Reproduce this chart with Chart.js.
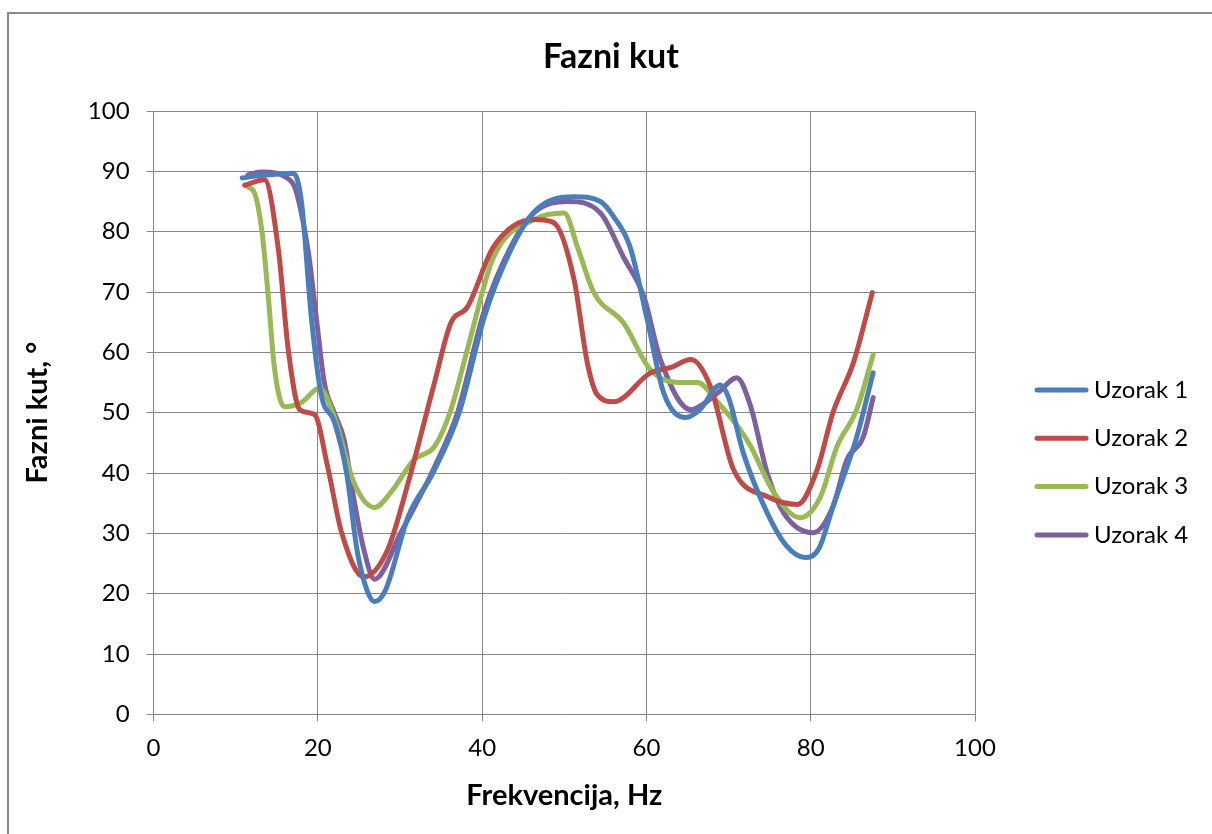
<!DOCTYPE html>
<html>
<head>
<meta charset="utf-8">
<script src="https://cdn.jsdelivr.net/npm/chart.js@4"></script>
<style>
  body { margin: 0; background: #fff; overflow: hidden; }
  #frame { position: absolute; left: 7px; top: 12px; width: 1300px; height: 900px;
           border-left: 2px solid #898989; border-top: 2px solid #898989; }
  canvas { position: absolute; left: 0; top: 0; }
</style>
</head>
<body>
<div id="frame"></div>
<canvas id="myChart" width="1212" height="834"></canvas>
<script>
  const chartTitle = 'Fazni kut';
  const seriesNames = ['Uzorak 1', 'Uzorak 2', 'Uzorak 3', 'Uzorak 4'];
  const xTicks = [0, 20, 40, 60, 80, 100];
  const yTicks = [0, 10, 20, 30, 40, 50, 60, 70, 80, 90, 100];

  const freq1 = [10.8, 13, 17, 18, 19.2, 20.4, 22, 23.5, 24.8, 26, 26.9, 28.2, 31, 34, 37.2, 40.3, 43.5, 46.5, 51.2, 54.4, 56, 58, 60.1, 62.1, 64.8, 66.5, 69, 70, 71.8, 74.7, 77, 79.3, 81, 82.7, 85.6, 87.6];
  const phase1 = [88.9, 89.3, 89.7, 85, 65.9, 53, 48.5, 40, 27, 20.5, 18.7, 20.5, 32.8, 40, 50, 66, 77, 83.5, 85.8, 85, 82.5, 77.5, 65.4, 53.3, 49.2, 50.5, 54.6, 52.5, 43.3, 33.4, 28, 26, 27.5, 34.4, 46, 56.6];

  const freq2 = [11.1, 13.5, 15.2, 16.4, 17.8, 19.6, 21.2, 22.9, 25.6, 28.5, 31, 34.2, 36.2, 38.2, 41.4, 46.3, 48.7, 51.2, 52.8, 54, 56, 60.5, 63, 65.4, 67.8, 70.6, 74.7, 78.4, 80.8, 82.7, 85.2, 87.5];
  const phase2 = [87.7, 88.6, 77, 60.4, 50.5, 49.7, 41, 30.1, 22.8, 27.3, 38.4, 55, 64.9, 67.5, 77.5, 82, 81.5, 72, 58.3, 53, 51.8, 56.6, 57.5, 58.8, 54.3, 40.6, 36.1, 34.8, 40.6, 50, 58.3, 69.9];

  const freq3 = [11.5, 12.3, 13.2, 14, 14.7, 15.9, 18, 20.2, 22, 24.4, 26.9, 29, 31.7, 34.2, 36.2, 38.3, 41.4, 46.3, 50, 51.6, 53.6, 57.2, 60.5, 63.8, 66.2, 68.7, 71.4, 72.7, 75.5, 78.7, 81.2, 83.2, 85.6, 87.6];
  const phase3 = [87.4, 86.4, 80, 68.7, 57.6, 51, 51.7, 54.1, 49.3, 38.4, 34.3, 37, 42.2, 44.4, 50.5, 61, 75.8, 82, 83.1, 77.5, 69.9, 64.9, 57.1, 55, 55, 51.7, 47.2, 44.4, 36.8, 32.6, 36.1, 44.4, 50.5, 59.6];

  const freq4 = [11.5, 13.1, 16.8, 18.8, 19.8, 20.8, 22, 23.2, 24.4, 25.6, 26.9, 30.1, 34.2, 37, 40.2, 43.5, 46.3, 50.4, 54.4, 57.2, 59.7, 61.7, 65.4, 68.7, 71, 72.7, 74.7, 76.7, 80.3, 82.7, 84.4, 86.4, 87.6];
  const phase4 = [89.4, 89.9, 88.3, 77, 65.9, 54.9, 50, 45.5, 35.6, 27.3, 22.4, 30.1, 41, 50, 66.6, 77.5, 83.1, 85, 83.1, 75.8, 69.2, 58.8, 50.5, 53.3, 55.8, 51, 40, 33.4, 30.1, 34.4, 42.2, 46, 52.5];

  const colors = ['#4a7ebb', '#be4b48', '#98b954', '#7d60a0'];
  const gridColor = '#878787';
  const fontFamily = 'Lato, "Open Sans", sans-serif';

  const toPoints = (xs, ys) => xs.map((x, i) => ({ x: x, y: ys[i] }));
  const allFreq = [freq1, freq2, freq3, freq4];
  const allPhase = [phase1, phase2, phase3, phase4];

  const data = {
    datasets: seriesNames.map((name, i) => ({
      label: name,
      data: toPoints(allFreq[i], allPhase[i]),
      borderColor: colors[i],
      backgroundColor: colors[i],
      borderWidth: 5,
      borderCapStyle: 'round',
      borderJoinStyle: 'round',
      pointRadius: 0,
      showLine: true,
      cubicInterpolationMode: 'monotone',
      fill: false
    }))
  };

  // title + legend drawn by hand: Excel centres the title on the whole frame
  // and puts the legend in the right margin
  const excelBits = {
    id: 'excelBits',
    afterDraw(chart) {
      const ctx = chart.ctx;
      ctx.save();
      ctx.fillStyle = '#000';
      ctx.font = 'bold 34px ' + fontFamily;
      ctx.textAlign = 'center';
      ctx.textBaseline = 'middle';
      ctx.fillText(chartTitle, 611, 57);

      chart.data.datasets.forEach((ds, i) => {
        const y = 390 + i * 48.3;
        ctx.strokeStyle = ds.borderColor;
        ctx.lineWidth = 5;
        ctx.lineCap = 'round';
        ctx.beginPath();
        ctx.moveTo(1037, y);
        ctx.lineTo(1086, y);
        ctx.stroke();
        ctx.font = '24px ' + fontFamily;
        ctx.textBaseline = 'middle';
        ctx.textAlign = 'left';
        ctx.fillText(ds.label, 1094, y);
      });
      ctx.restore();
    }
  };

  const config = {
    type: 'scatter',
    data: data,
    plugins: [excelBits],
    options: {
      responsive: false,
      animation: false,
      devicePixelRatio: 1,
      layout: { padding: { left: 20, right: 237, top: 111, bottom: 17 } },
      plugins: {
        legend: { display: false },
        tooltip: { enabled: false },
        title: { display: false }
      },
      scales: {
        x: {
          type: 'linear',
          min: 0,
          max: 100,
          afterBuildTicks: (axis) => { axis.ticks = xTicks.map(v => ({ value: v })); },
          ticks: { color: '#000', font: { family: fontFamily, size: 24 }, padding: 12 },
          grid: { color: gridColor, tickLength: 7, lineWidth: 1 },
          border: { color: gridColor },
          title: {
            display: true,
            text: 'Frekvencija, Hz',
            color: '#000',
            font: { family: fontFamily, size: 29, weight: 'bold' },
            padding: { top: 4, bottom: 4 }
          }
        },
        y: {
          type: 'linear',
          min: 0,
          max: 100,
          afterBuildTicks: (axis) => { axis.ticks = yTicks.map(v => ({ value: v })); },
          ticks: { color: '#000', font: { family: fontFamily, size: 24 }, padding: 17 },
          grid: { color: gridColor, tickLength: 7, lineWidth: 1 },
          border: { color: gridColor },
          title: {
            display: true,
            text: 'Fazni kut, °',
            color: '#000',
            font: { family: fontFamily, size: 29, weight: 'bold' },
            padding: { top: 0, bottom: 16 }
          }
        }
      }
    }
  };

  const myChart = new Chart(document.getElementById('myChart'), config);
</script>
</body>
</html>
